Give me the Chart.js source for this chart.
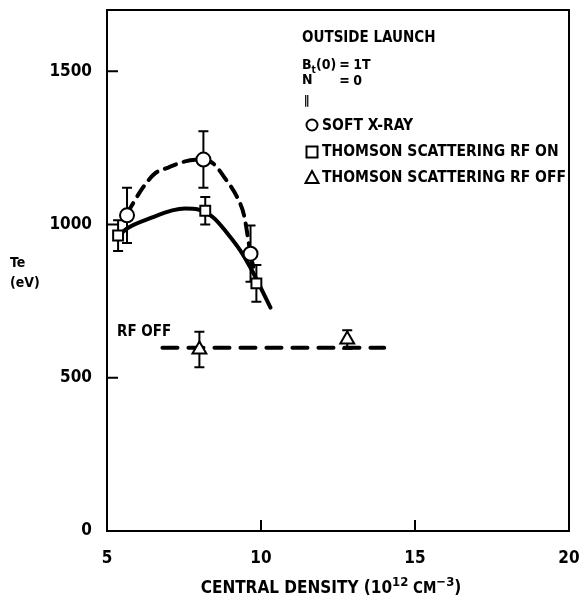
<!DOCTYPE html>
<html lang="en">
<head>
  <meta charset="UTF-8" />
  <title>Te vs central density</title>
  <script src="https://cdn.jsdelivr.net/npm/chart.js"></script>
  <style>
    html, body { margin: 0; padding: 0; background: #fff; }
    #chart { display: block; }
  </style>
</head>
<body>
  <canvas id="chart" width="580" height="607"></canvas>

  <script>
    const FONT = "'Liberation Sans Narrow', 'DejaVu Sans Condensed', sans-serif";

    // axes
    const xTicks = [5, 10, 15, 20];
    const yTicks = [0, 500, 1000, 1500];

    // soft x-ray (circles)
    const softX = [5.65, 8.13, 9.66];
    const softY = [1030, 1212, 905];
    const softErr = [90, 92, 92];

    // thomson scattering, rf on (squares)
    const onX = [5.36, 8.19, 9.85];
    const onY = [964, 1045, 808];
    const onErr = [50, 45, 60];

    // thomson scattering, rf off (triangles)
    const offX = [8.0, 12.8];
    const offY = [592, 625];
    const offErr = [58, 30];

    // hand-drawn trend curves
    const solidX = [5.4, 5.65, 6.47, 7.12, 7.54, 7.96, 8.45, 8.91, 9.33, 9.66, 10.31];
    const solidY = [965, 987, 1023, 1046, 1052, 1049, 1023, 971, 915, 859, 729];
    const dashX = [5.65, 6.17, 6.56, 6.99, 7.54, 8.13, 8.45, 8.84, 9.23, 9.45, 9.66, 9.75];
    const dashY = [1036, 1121, 1167, 1186, 1206, 1212, 1199, 1150, 1088, 1030, 905, 862];
    const rfOffX = [6.8, 14.0];
    const rfOffY = [598, 598];

    const pts = (xs, ys) => xs.map((x, i) => ({ x, y: ys[i] }));

    const errorBars = {
      id: 'errorBars',
      beforeDatasetsDraw(chart) {
        const { ctx, scales: { x, y } } = chart;
        const sets = [[softX, softY, softErr], [onX, onY, onErr], [offX, offY, offErr]];
        ctx.save();
        ctx.strokeStyle = '#000';
        ctx.lineWidth = 2;
        sets.forEach(([xs, ys, es]) => {
          xs.forEach((xv, i) => {
            const px = x.getPixelForValue(xv);
            const top = y.getPixelForValue(ys[i] + es[i]);
            const bot = y.getPixelForValue(ys[i] - es[i]);
            ctx.beginPath();
            ctx.moveTo(px, top); ctx.lineTo(px, bot);
            ctx.moveTo(px - 5, top); ctx.lineTo(px + 5, top);
            ctx.moveTo(px - 5, bot); ctx.lineTo(px + 5, bot);
            ctx.stroke();
          });
        });
        ctx.restore();
      }
    };

    const frame = {
      id: 'frame',
      afterDraw(chart) {
        const { ctx, chartArea: a, scales: { x, y } } = chart;
        ctx.save();
        ctx.strokeStyle = '#000';
        ctx.lineWidth = 2;
        ctx.strokeRect(a.left, a.top, a.right - a.left, a.bottom - a.top);
        ctx.beginPath();
        yTicks.forEach(v => {
          const py = y.getPixelForValue(v);
          ctx.moveTo(a.left, py); ctx.lineTo(a.left + 11, py);
        });
        xTicks.forEach(v => {
          const px = x.getPixelForValue(v);
          ctx.moveTo(px, a.bottom); ctx.lineTo(px, a.bottom - 11);
        });
        ctx.stroke();

        ctx.fillStyle = '#000';
        ctx.textBaseline = 'middle';
        ctx.textAlign = 'left';
        const f = (s) => `bold ${s}px ${FONT}`;

        // y title
        ctx.font = f(14);
        ctx.fillText('Te', 10, 263);
        ctx.fillText('(eV)', 10, 283);

        // x title with superscripts
        const parts = [
          ['CENTRAL DENSITY (10', 17, 0],
          ['12', 13, -6],
          [' CM', 15, 0],
          ['\u22123', 13, -6],
          [')', 17, 0]
        ];
        let total = 0;
        parts.forEach(([t, s]) => { ctx.font = f(s); total += ctx.measureText(t).width; });
        let cx = 331 - total / 2;
        parts.forEach(([t, s, dy]) => {
          ctx.font = f(s);
          ctx.fillText(t, cx, 589 + dy);
          cx += ctx.measureText(t).width;
        });

        // annotation block
        ctx.font = f(15);
        ctx.fillText('OUTSIDE LAUNCH', 302, 38);
        ctx.font = f(14);
        ctx.fillText('B', 302, 65);
        let px = 302 + ctx.measureText('B').width;
        ctx.font = f(10);
        ctx.fillText('t', px, 70);
        px += ctx.measureText('t').width;
        ctx.font = f(14);
        ctx.fillText('(0)', px, 65);
        px += ctx.measureText('(0)').width;
        const eqX = Math.max(330, px + 3);
        ctx.fillText('=', eqX, 65);
        ctx.fillText('1T', eqX + 14, 65);
        ctx.fillText('N', 302, 80);
        ctx.fillText('=', eqX, 81);
        ctx.fillText('0', eqX + 14, 81);
        ctx.font = f(12);
        ctx.fillText('\u2225', 304, 101);

        ctx.font = f(15.5);
        ctx.fillText('SOFT X-RAY', 322, 126);
        ctx.fillText('THOMSON SCATTERING RF ON', 322, 152);
        ctx.fillText('THOMSON SCATTERING RF OFF', 322, 178);

        ctx.lineWidth = 2;
        ctx.beginPath();
        ctx.arc(312, 125, 5.5, 0, Math.PI * 2);
        ctx.stroke();
        ctx.strokeRect(306.5, 146.5, 11, 11);
        ctx.beginPath();
        ctx.moveTo(312, 171); ctx.lineTo(318.5, 183); ctx.lineTo(305.5, 183); ctx.closePath();
        ctx.stroke();

        ctx.font = f(15);
        ctx.fillText('RF OFF', 117, 332);
        ctx.restore();
      }
    };

    const marker = (label, xs, ys, style, r) => ({
      label,
      type: 'scatter',
      data: pts(xs, ys),
      pointStyle: style,
      pointRadius: r,
      pointBackgroundColor: '#fff',
      pointBorderColor: '#000',
      pointBorderWidth: 2,
      showLine: false
    });

    const curve = (xs, ys, dash, width) => ({
      type: 'line',
      data: pts(xs, ys),
      borderColor: '#000',
      borderWidth: width,
      borderDash: dash,
      borderCapStyle: 'round',
      pointRadius: 0,
      cubicInterpolationMode: 'monotone',
      fill: false
    });

    const noPad = s => { s.paddingLeft = 0; s.paddingRight = 0; s.paddingTop = 0; s.paddingBottom = 0; };

    new Chart(document.getElementById('chart'), {
      type: 'scatter',
      data: {
        datasets: [
          marker('SOFT X-RAY', softX, softY, 'circle', 7),
          marker('THOMSON SCATTERING RF ON', onX, onY, 'rect', 7),
          marker('THOMSON SCATTERING RF OFF', offX, offY, 'triangle', 8),
          curve(solidX, solidY, [], 4),
          curve(dashX, dashY, [12, 8], 4),
          curve(rfOffX, rfOffY, [15, 11], 4)
        ]
      },
      options: {
        responsive: false,
        animation: false,
        layout: { padding: { top: 10, right: 11, left: 0, bottom: 0 } },
        plugins: { legend: { display: false }, tooltip: { enabled: false } },
        scales: {
          x: {
            type: 'linear',
            min: 5, max: 20,
            afterBuildTicks: s => { s.ticks = xTicks.map(v => ({ value: v })); },
            afterFit: s => { s.height = 76; noPad(s); },
            grid: { display: false },
            border: { display: false },
            ticks: { color: '#000', padding: 9, maxRotation: 0, callback: v => String(v), font: { family: FONT, size: 17, weight: 'bold' } }
          },
          y: {
            min: 0, max: 1700,
            afterBuildTicks: s => { s.ticks = yTicks.map(v => ({ value: v })); },
            afterFit: s => { s.width = 107; noPad(s); },
            grid: { display: false },
            border: { display: false },
            ticks: { color: '#000', padding: 7, callback: v => String(v), font: { family: FONT, size: 17, weight: 'bold' } }
          }
        }
      },
      plugins: [errorBars, frame]
    });
  </script>
</body>
</html>
